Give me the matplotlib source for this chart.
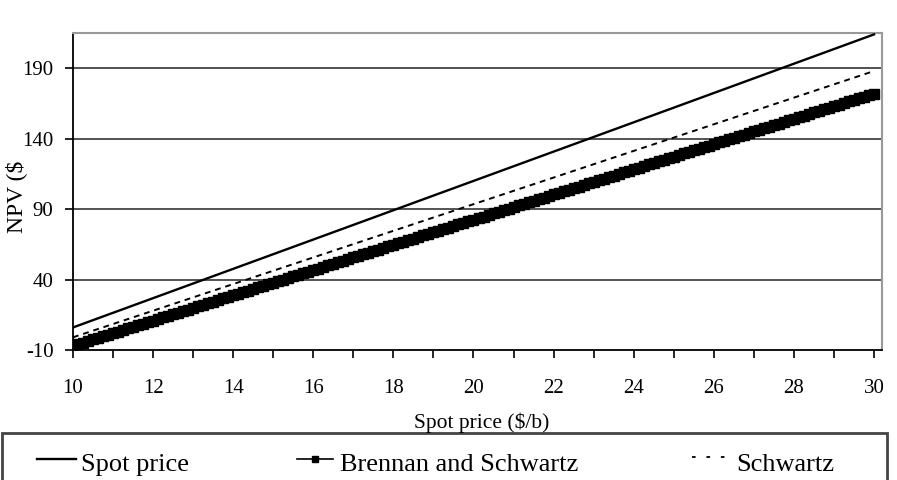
import numpy as np
import matplotlib
matplotlib.use('Agg')
from matplotlib import pyplot as plt
from matplotlib.lines import Line2D
from matplotlib.patches import Rectangle

plt.rcParams['font.family'] = ['Liberation Serif', 'DejaVu Serif']
plt.rcParams['axes.unicode_minus'] = False

# data
spot_x = [10, 30]
spot_npv = [6.0, 214.0]

schwartz_x = [10, 30]
schwartz_npv = [-1.0, 188.0]

bs_x = np.arange(10, 30.0001, 0.125)
bs_npv = [
    -7.0, -5.9, -4.8, -3.6, -2.5, -1.4, -0.3, 0.8, 2.0, 3.1,
    4.2, 5.3, 6.4, 7.5, 8.7, 9.8, 10.9, 12.0, 13.1, 14.3,
    15.4, 16.5, 17.6, 18.7, 19.9, 21.0, 22.1, 23.2, 24.3, 25.4,
    26.6, 27.7, 28.8, 29.9, 31.0, 32.2, 33.3, 34.4, 35.5, 36.6,
    37.8, 38.9, 40.0, 41.1, 42.2, 43.3, 44.5, 45.6, 46.7, 47.8,
    48.9, 50.1, 51.2, 52.3, 53.4, 54.5, 55.7, 56.8, 57.9, 59.0,
    60.1, 61.2, 62.4, 63.5, 64.6, 65.7, 66.8, 68.0, 69.1, 70.2,
    71.3, 72.4, 73.6, 74.7, 75.8, 76.9, 78.0, 79.1, 80.3, 81.4,
    82.5, 83.6, 84.7, 85.9, 87.0, 88.1, 89.2, 90.3, 91.5, 92.6,
    93.7, 94.8, 95.9, 97.0, 98.2, 99.3, 100.4, 101.5, 102.6, 103.8,
    104.9, 106.0, 107.1, 108.2, 109.4, 110.5, 111.6, 112.7, 113.8, 114.9,
    116.1, 117.2, 118.3, 119.4, 120.5, 121.7, 122.8, 123.9, 125.0, 126.1,
    127.3, 128.4, 129.5, 130.6, 131.7, 132.8, 134.0, 135.1, 136.2, 137.3,
    138.4, 139.6, 140.7, 141.8, 142.9, 144.0, 145.2, 146.3, 147.4, 148.5,
    149.6, 150.7, 151.9, 153.0, 154.1, 155.2, 156.3, 157.5, 158.6, 159.7,
    160.8, 161.9, 163.1, 164.2, 165.3, 166.4, 167.5, 168.6, 169.8, 170.9,
    172.0,
]

y_ticks = [-10, 40, 90, 140, 190]
x_ticks = list(range(10, 31, 2))

W, H = 897, 480
fig = plt.figure(figsize=(W / 100, H / 100), dpi=100)
ax = fig.add_axes([73 / W, 1 - 350 / H, (882 - 73) / W, (350 - 33) / H])

for y in y_ticks[1:]:
    ax.axhline(y, color='#444444', lw=1.3, zorder=1)

ax.plot(spot_x, spot_npv, color='black', lw=1.7, zorder=3)
ax.plot(schwartz_x, schwartz_npv, color='black', lw=1.4, ls=(0, (3, 2.5)), zorder=3)
ax.plot(bs_x, bs_npv, color='black', lw=1.2, marker='s', ms=6.5, zorder=3)

ax.set_xlim(10, 30.2)
ax.set_ylim(-10, 215)
ax.set_yticks(y_ticks)
ax.set_xticks(range(10, 31))
ax.set_xticklabels([str(v) if v in x_ticks else '' for v in range(10, 31)])
ax.tick_params(axis='x', direction='out', length=6, width=1.2, pad=15, labelsize=15)
ax.tick_params(axis='y', direction='out', length=6, width=1.2, pad=8, labelsize=15)

ax.spines['left'].set_color('black')
ax.spines['bottom'].set_color('black')
ax.spines['left'].set_linewidth(1.3)
ax.spines['bottom'].set_linewidth(1.3)
ax.spines['top'].set_color('#999999')
ax.spines['right'].set_color('#999999')
ax.spines['top'].set_linewidth(1.5)
ax.spines['right'].set_linewidth(1.5)

fig.text(482 / W, 1 - 423 / H, 'Spot price ($/b)', ha='center', va='center', fontsize=15.5)
fig.text(16 / W, 1 - 197 / H, 'NPV ($', ha='center', va='center', rotation=90, fontsize=17)

# legend box
fig.patches.append(Rectangle((2 / W, 1 - 486 / H), 885 / W, 53 / H, transform=fig.transFigure,
                             fill=False, edgecolor='#444444', lw=2))
ly = 1 - 465 / H
hy = 1 - 459 / H
fig.lines.append(Line2D([37 / W, 76 / W], [hy, hy], transform=fig.transFigure,
                        color='black', lw=1.7))
fig.text(81 / W, ly, 'Spot price', va='center', fontsize=19)
fig.lines.append(Line2D([297 / W, 333 / W], [hy, hy], transform=fig.transFigure,
                        color='black', lw=1.2))
fig.lines.append(Line2D([315 / W], [hy], transform=fig.transFigure,
                        color='black', marker='s', ms=4))
fig.text(340 / W, ly, 'Brennan and Schwartz', va='center', fontsize=19)
fig.lines.append(Line2D([692 / W, 727 / W], [hy + 0.004, hy + 0.004], transform=fig.transFigure,
                        color='black', lw=1.3, ls=(0, (2, 6))))
fig.text(736 / W, ly, 'Schwartz', va='center', fontsize=19)

fig.savefig('out.png', dpi=100)
